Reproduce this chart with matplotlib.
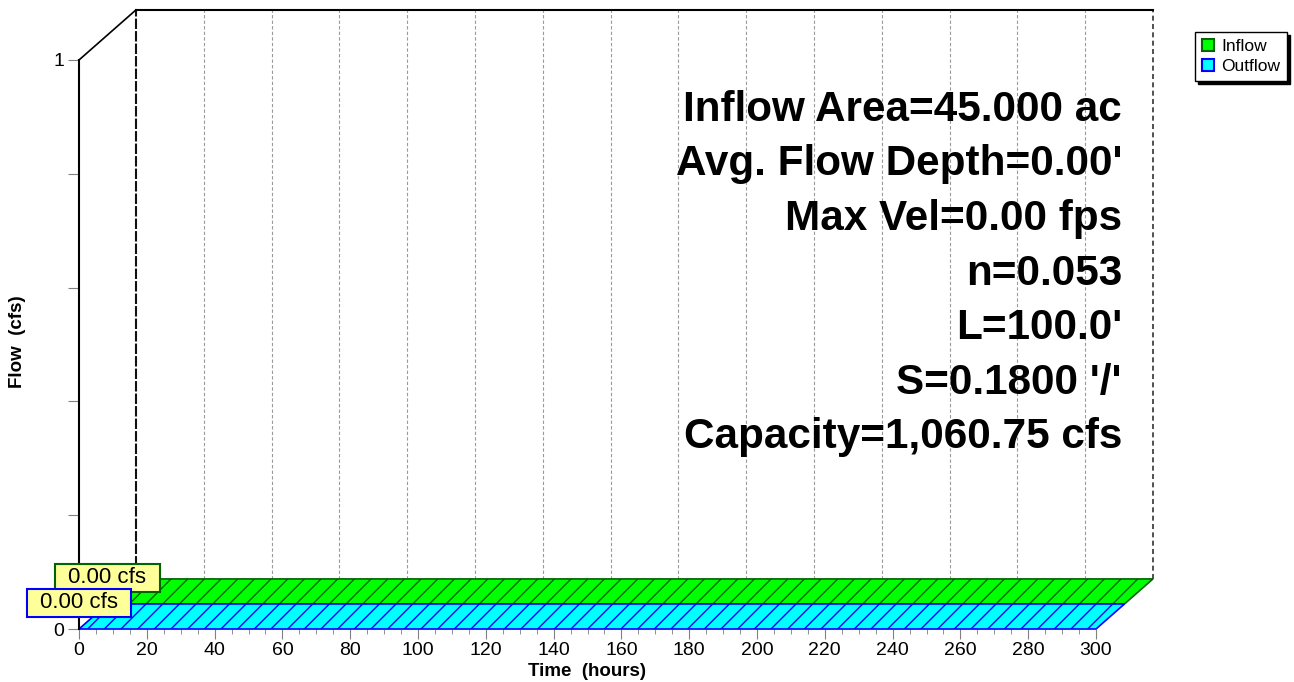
import matplotlib
import matplotlib.pyplot as plt
from matplotlib.patches import Patch
from matplotlib.path import Path

matplotlib.use('Agg')
plt.rcParams['font.family'] = ['Liberation Sans', 'DejaVu Sans']

# data
time_hours = [0, 300]
inflow_cfs = [0.0, 0.0]
outflow_cfs = [0.0, 0.0]
series_names = ['Inflow', 'Outflow']
peak_labels = ['0.00 cfs', '0.00 cfs']
info_lines = [
    'Inflow Area=45.000 ac',
    "Avg. Flow Depth=0.00'",
    'Max Vel=0.00 fps',
    'n=0.053',
    "L=100.0'",
    "S=0.1800 '/'",
    'Capacity=1,060.75 cfs',
]

face_colors = ['#00FF00', '#00FFFF']
edge_colors = ['#006400', '#0000FF']

# depth offset of the back plane, as a fraction of the axes
depth_x = 0.056
depth_y = 0.088


def wide_box(x0, y0, width, height, mutation_size):
    px = 0.6 * mutation_size
    py = 0.16 * mutation_size
    verts = [(x0 - px, y0 - py), (x0 + width + px, y0 - py),
             (x0 + width + px, y0 + height + py), (x0 - px, y0 + height + py),
             (x0 - px, y0 - py)]
    return Path(verts, closed=True)


fig = plt.figure(figsize=(12.94, 6.82), dpi=100)
ax = fig.add_axes([79 / 1294, 53 / 682, 1017 / 1294, 569 / 682])
ax.set_xlim(0, 300)
ax.set_ylim(0, 1)
ax.patch.set_visible(False)

x0, x1 = ax.get_xlim()
y0, y1 = ax.get_ylim()
DX = depth_x * (x1 - x0)
DY = depth_y * (y1 - y0)

for s in ['top', 'right', 'bottom']:
    ax.spines[s].set_visible(False)
ax.spines['left'].set_color('black')
ax.spines['left'].set_linewidth(1.5)
ax.spines['left'].set_zorder(5)

# ticks
ax.set_xticks(range(0, 301, 20))
ax.set_xticks(range(0, 301, 5), minor=True)
ax.set_yticks([0, 0.2, 0.4, 0.6, 0.8, 1.0])
ax.set_yticklabels(['0', '', '', '', '', '1'])
ax.tick_params(axis='both', which='major', direction='out', color='#808080',
               labelsize=14, pad=2.5)
ax.tick_params(axis='x', which='major', length=7.2)
ax.tick_params(axis='x', which='minor', length=3.6, color='#808080')
ax.tick_params(axis='y', which='major', length=8)

# back plane
for t in range(20, 300, 20):
    ax.plot([t + DX, t + DX], [y0 + DY, y1 + DY], color='#9a9a9a', lw=0.8,
            ls=(0, (3, 2)), clip_on=False, zorder=1)
ax.plot([x0 + DX, x0 + DX], [y0 + DY, y1 + DY], color='#111111', lw=1.5,
        ls=(0, (5, 1)), clip_on=False, zorder=1)
ax.plot([x1 + DX, x1 + DX], [y0 + DY, y1 + DY], color='#333333', lw=1.2,
        ls=(0, (3, 2)), clip_on=False, zorder=1)
ax.plot([x0 + DX, x1 + DX], [y1 + DY, y1 + DY], color='black', lw=1.5,
        clip_on=False, zorder=2)
ax.plot([x0, x0 + DX], [y1, y1 + DY], color='black', lw=1.2, clip_on=False, zorder=2)

# series bands, back to front
values = [inflow_cfs, outflow_cfs]
n = len(values)
for i in range(n):
    d_back = (n - i) / n
    d_front = (n - i - 1) / n
    q = values[i]
    front = [(t + d_front * DX, v + d_front * DY) for t, v in zip(time_hours, q)]
    back = [(t + d_back * DX, v + d_back * DY) for t, v in zip(time_hours, q)]
    poly = front + back[::-1]
    ax.fill([p[0] for p in poly], [p[1] for p in poly], facecolor=face_colors[i],
            edgecolor=edge_colors[i], hatch='//', lw=1.2, clip_on=False, zorder=3 + i)

# peak labels
for i in range(n):
    d_front = (n - i - 1) / n
    ax.annotate(peak_labels[i], xy=(time_hours[0] + d_front * DX, max(values[i]) + d_front * DY),
                xytext=(0, 19), textcoords='offset points', ha='center', va='center',
                fontsize=16, zorder=10 + i, annotation_clip=False,
                bbox=dict(boxstyle=wide_box, fc='#FFFF99', ec=edge_colors[i], lw=1.5))

# info text
for k, line in enumerate(info_lines):
    fig.text(1122 / 1294, 1 - (121 + 54.5 * k) / 682, line, ha='right', va='baseline',
             fontsize=30.4, fontweight='bold')

fig.text(587 / 1294, 1 - 671 / 682, 'Time  (hours)', ha='center', va='center',
         fontsize=13.5, fontweight='bold')
fig.text(18 / 1294, 1 - 342 / 682, 'Flow  (cfs)', ha='center', va='center',
         rotation=90, fontsize=13.5, fontweight='bold')

handles = [Patch(facecolor=face_colors[i], edgecolor=edge_colors[i], lw=1.5,
                 label=series_names[i]) for i in range(n)]
fig.legend(handles=handles, loc='upper right', bbox_to_anchor=(1287 / 1294, 1 - 32 / 682),
           borderaxespad=0, fancybox=False, edgecolor='black', framealpha=1,
           fontsize=12.5, handlelength=0.7, handleheight=0.7, handletextpad=0.4,
           borderpad=0.4, labelspacing=0.3,
           shadow=dict(facecolor='black', edgecolor='black', alpha=1))

fig.savefig('out.png', dpi=100)
